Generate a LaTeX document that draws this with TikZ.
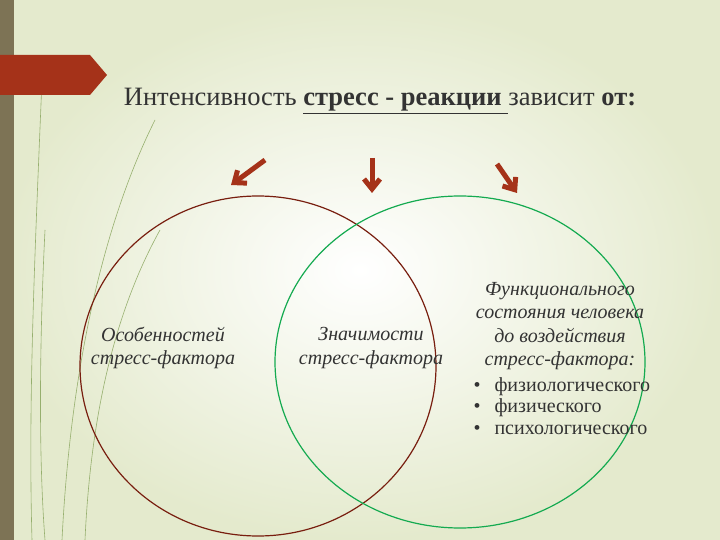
\documentclass[tikz,border=0pt]{standalone}
\usepackage{fontspec}
\setmainfont{Liberation Serif}
\usetikzlibrary{arrows.meta}
\definecolor{rust}{RGB}{165,50,25}
\definecolor{olivebar}{RGB}{125,115,85}
\definecolor{bgout}{RGB}{228,234,205}
\definecolor{decog}{RGB}{150,175,110}
\definecolor{ebrown}{RGB}{120,30,15}
\definecolor{egreen}{RGB}{20,170,80}
\begin{document}
\begin{tikzpicture}[x=1pt,y=-1pt,
  arr/.style={draw=rust,line width=5pt,-{Straight Barb[length=10pt,width=16pt]}},
  body/.style={font=\itshape\fontsize{20}{23.5}\selectfont,align=center,text=black!80},
  deco/.style={draw=decog,line width=0.6pt}]
\useasboundingbox (0,0) rectangle (720,540);
\shade[inner color=white,outer color=bgout] (0,0) rectangle (720,540);
\fill[olivebar] (0,0) rectangle (14,540);
\draw[deco] (42,80) .. controls (35,250) and (28,400) .. (32,540);
\draw[deco] (45,230) .. controls (40,330) and (38,450) .. (45,540);
\draw[deco] (155,120) .. controls (100,230) and (70,380) .. (62,540);
\draw[deco] (160,230) .. controls (110,320) and (90,430) .. (85,540);
\fill[rust] (0,55) -- (90,55) -- (107,75) -- (90,95) -- (0,95) -- cycle;
\node[font=\fontsize{26.5}{30}\selectfont,text=black!80] (title) at (380,101)
  {Интенсивность \textbf{\underline{стресс - реакции }}зависит \textbf{от:}};
\draw[ebrown,line width=1.2pt] (258,366) ellipse [x radius=178,y radius=170];
\draw[egreen,line width=1.2pt] (460,362) ellipse [x radius=185,y radius=166];
\coordinate (a1s) at (265,160); \coordinate (a1e) at (231,185);
\coordinate (a2s) at (372,158); \coordinate (a2e) at (372,193);
\coordinate (a3s) at (497,164); \coordinate (a3e) at (517,193);
\draw[arr] (a1s) -- (a1e);
\draw[arr] (a2s) -- (a2e);
\draw[arr] (a3s) -- (a3e);
\node[body] (n1) at (163,348) {Особенностей\\стресс-фактора};
\node[body] (n2) at (371,348) {Значимости\\стресс-фактора};
\node[body] (n3) at (560,326) {Функционального\\состояния человека\\до воздействия\\стресс-фактора:};
\node[font=\fontsize{20}{21.5}\selectfont,align=left,text=black!80,anchor=north west] (n4) at (470,374)
  {•\hspace{14pt}физиологического\\•\hspace{14pt}физического\\•\hspace{14pt}психологического};
\end{tikzpicture}
\end{document}
